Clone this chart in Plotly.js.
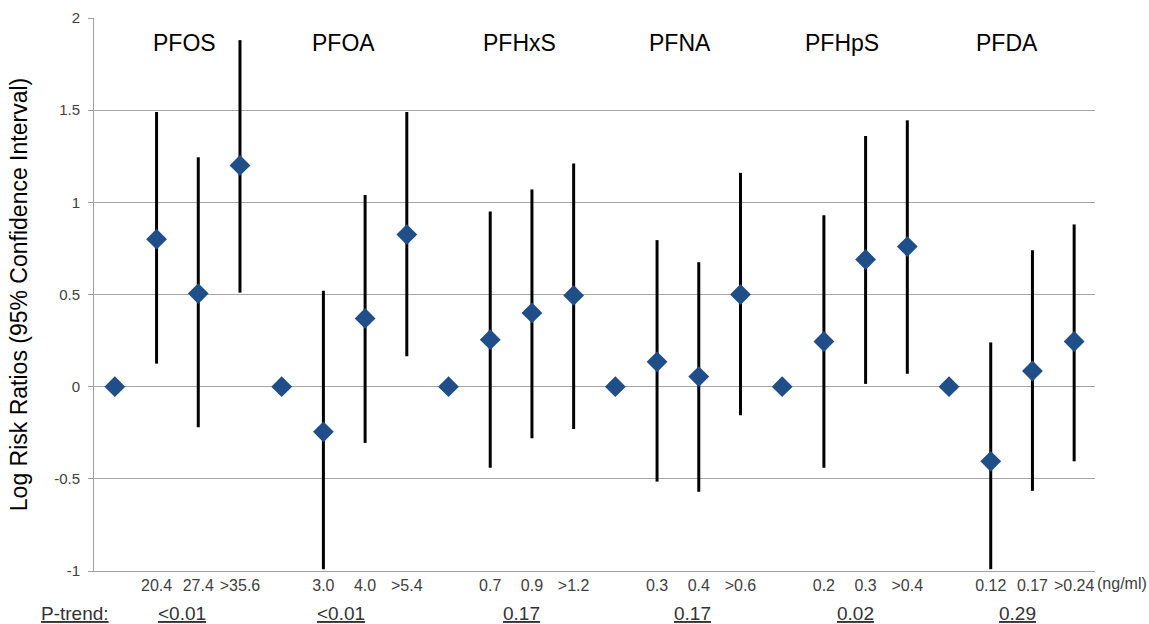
<!DOCTYPE html>
<html>
<head>
<meta charset="utf-8">
<script src="https://cdn.plot.ly/plotly-3.0.1.min.js"></script>
<style>html,body{margin:0;padding:0;background:#fff;}#chart{width:1149px;height:624px;}</style>
</head>
<body>
<div id="chart"></div>
<script>
// Data
var compounds = ["PFOS", "PFOA", "PFHxS", "PFNA", "PFHpS", "PFDA"];
var quartileLabels = [
  ["", "20.4", "27.4", ">35.6"],
  ["", "3.0", "4.0", ">5.4"],
  ["", "0.7", "0.9", ">1.2"],
  ["", "0.3", "0.4", ">0.6"],
  ["", "0.2", "0.3", ">0.4"],
  ["", "0.12", "0.17", ">0.24"]
];
var estimate = [
  [0, 0.80, 0.505, 1.20],
  [0, -0.245, 0.37, 0.825],
  [0, 0.255, 0.40, 0.495],
  [0, 0.135, 0.055, 0.50],
  [0, 0.245, 0.69, 0.76],
  [0, -0.405, 0.085, 0.245]
];
var lowerCI = [
  [0, 0.125, -0.22, 0.51],
  [0, -0.99, -0.305, 0.165],
  [0, -0.44, -0.28, -0.23],
  [0, -0.515, -0.57, -0.155],
  [0, -0.44, 0.015, 0.07],
  [0, -0.99, -0.565, -0.405]
];
var upperCI = [
  [0, 1.49, 1.245, 1.88],
  [0, 0.52, 1.04, 1.49],
  [0, 0.95, 1.07, 1.21],
  [0, 0.795, 0.675, 1.16],
  [0, 0.93, 1.36, 1.445],
  [0, 0.24, 0.74, 0.88]
];
var pTrend = ["<0.01", "<0.01", "0.17", "0.17", "0.02", "0.29"];
var yTickValues = [-1, -0.5, 0, 0.5, 1, 1.5, 2];
var yTickLabels = ["-1", "-0.5", "0", "0.5", "1", "1.5", "2"];
var unitLabel = "(ng/ml)";

// layout-only nudges (in category units) for the free-floating labels
var nameOffset = [1.68, 1.49, 1.70, 1.55, 1.43, 1.40];
var pOffset = [1.62, 1.43, 1.76, 1.85, 1.76, 1.65];

var xs = [], ys = [], ePlus = [], eMinus = [], tickText = [];
for (var g = 0; g < compounds.length; g++) {
  for (var q = 0; q < 4; q++) {
    xs.push(g * 4 + q);
    ys.push(estimate[g][q]);
    ePlus.push(upperCI[g][q] - estimate[g][q]);
    eMinus.push(estimate[g][q] - lowerCI[g][q]);
    tickText.push(quartileLabels[g][q]);
  }
}

var trace = {
  type: "scatter",
  mode: "markers",
  x: xs,
  y: ys,
  marker: {symbol: "diamond", size: 16, color: "#1F4E89", line: {width: 0}},
  error_y: {type: "data", symmetric: false, array: ePlus, arrayminus: eMinus,
            color: "#000000", thickness: 3, width: 0},
  hoverinfo: "x+y",
  showlegend: false
};

var font = "Liberation Sans, Arial, sans-serif";
var W = 1149, H = 624, L = 94, R = 54, T = 18, B = 53;
function px2paperX(p) { return (p - L) / (W - L - R); }
function px2paperY(p) { return (H - p - B) / (H - T - B); }

var annotations = [];
for (var g = 0; g < compounds.length; g++) {
  annotations.push({
    x: g * 4 + nameOffset[g], y: 1.867, xref: "x", yref: "y", text: compounds[g],
    showarrow: false, font: {family: font, size: 23, color: "#000"}, xanchor: "center", yanchor: "middle"
  });
  annotations.push({
    x: g * 4 + pOffset[g], y: px2paperY(613), xref: "x", yref: "paper", text: "<u>" + pTrend[g] + "</u>",
    showarrow: false, font: {family: font, size: 19, color: "#333"}, xanchor: "center", yanchor: "middle"
  });
}
annotations.push({x: px2paperX(75), y: px2paperY(613), xref: "paper", yref: "paper", text: "<u>P-trend:</u>", showarrow: false,
  font: {family: font, size: 19, color: "#333"}, xanchor: "center", yanchor: "middle"});
annotations.push({x: 23.5, y: px2paperY(583), xref: "x", yref: "paper", text: unitLabel, showarrow: false,
  font: {family: "Liberation Sans Narrow, Arial Narrow, sans-serif", size: 16, color: "#404040"}, xanchor: "left", yanchor: "middle", xshift: 0});

var layout = {
  width: W, height: H,
  margin: {l: L, r: R, t: T, b: B, pad: 0},
  paper_bgcolor: "#fff", plot_bgcolor: "#fff",
  font: {family: font, color: "#404040"},
  xaxis: {
    range: [-0.5, 23.5], tickmode: "array", tickvals: xs, ticktext: tickText,
    showgrid: false, zeroline: false, showline: true, linecolor: "#a0a0a0", linewidth: 1,
    ticks: "", tickfont: {family: font, size: 16, color: "#404040"}, fixedrange: true
  },
  yaxis: {
    range: [-1, 2], tickmode: "array", tickvals: yTickValues, ticktext: yTickLabels,
    showgrid: true, gridcolor: "#a6a6a6", gridwidth: 1,
    zeroline: true, zerolinecolor: "#a6a6a6", zerolinewidth: 1,
    showline: true, linecolor: "#a0a0a0", linewidth: 1,
    ticks: "outside", ticklen: 5, tickcolor: "#a0a0a0", ticklabelstandoff: 5,
    tickfont: {family: font, size: 15, color: "#404040"},
    title: {text: "Log Risk Ratios (95% Confidence Interval)", font: {family: font, size: 23, color: "#000"}, standoff: 20},
    fixedrange: true
  },
  annotations: annotations
};

Plotly.newPlot("chart", [trace], layout, {displayModeBar: false, staticPlot: true});
</script>
</body>
</html>
